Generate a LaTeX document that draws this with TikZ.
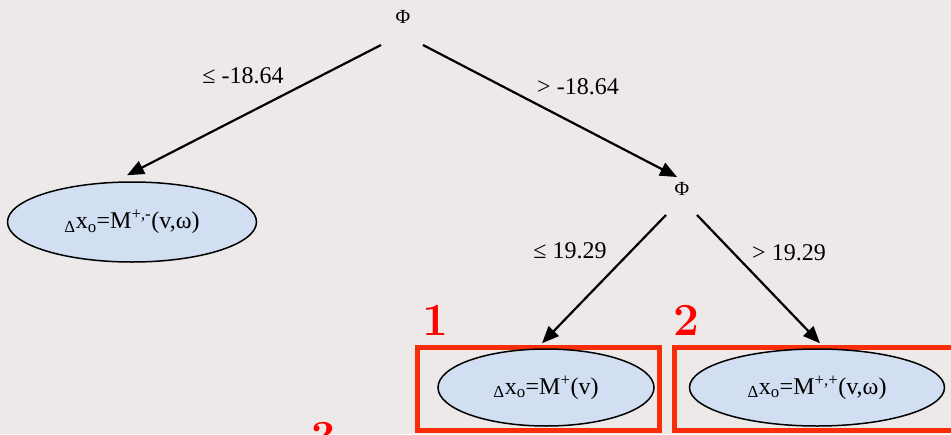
\documentclass[tikz,border=0pt]{standalone}
\usepackage{fontspec}
\newfontfamily\lsfont{Liberation Serif}
\usetikzlibrary{arrows.meta,positioning,calc,shapes.geometric}
\definecolor{bgcol}{RGB}{237,233,233}
\definecolor{leafblue}{RGB}{210,222,242}
\definecolor{markred}{RGB}{250,45,10}

\begin{document}
\begin{tikzpicture}[
  x=1pt, y=-1pt,
  leaf/.style={draw=black, line width=1.5pt, fill=leafblue, ellipse,
               inner sep=0pt, font=\lsfont\fontsize{24}{26}\selectfont},
  split/.style={inner sep=0pt, font=\lsfont\fontsize{20}{22}\selectfont},
  lbl/.style={inner sep=0pt, font=\lsfont\fontsize{24}{26}\selectfont},
  hl/.style={draw=markred, line width=5pt, inner sep=0pt},
  num/.style={text=red, inner sep=0pt, anchor=base,
              font=\fontsize{46}{48}\selectfont\bfseries},
  arr/.style={-{Triangle[length=17pt,width=14pt]}, line width=2.2pt}
]
% background
\fill[bgcol] (0,0) rectangle (951,434);
\useasboundingbox (0,0) rectangle (951,434);

% highlight frames
\node[hl, minimum width=242pt, minimum height=83pt] (box1) at (538,388.5) {};
\node[hl, minimum width=286pt, minimum height=83pt] (box2) at (817,388.5) {};

% splits
\node[split] (root) at (403,17) {Φ};
\node[split] (phi2) at (682,189) {Φ};

% leaves
\node[leaf, minimum width=249pt, minimum height=80pt] (lp) at (132,222)
  {\textsubscript{Δ}x\textsubscript{o}=M\textsuperscript{+,-}(v,ω)};
\node[leaf, minimum width=216pt, minimum height=77pt] (e1) at (546,387.5)
  {\textsubscript{Δ}x\textsubscript{o}=M\textsuperscript{+}(v)};
\node[leaf, minimum width=255pt, minimum height=77pt] (e2) at (817,387.5)
  {\textsubscript{Δ}x\textsubscript{o}=M\textsuperscript{+,+}(v,ω)};

% edge labels
\node[lbl] (lblA) at (243,76) {≤ -18.64};
\node[lbl] (lblB) at (578,87) {> -18.64};
\node[lbl] (lblC) at (570,251) {≤ 19.29};
\node[lbl] (lblD) at (789,253) {> 19.29};

% numbers
\node[num] (n1) at (435,335) {1};
\node[num] (n2) at (686,335) {2};
\node[num] (n3) at (323,452) {3};

\draw[arr] ($(root)+(-22,28)$) -- ($(lp.north)+(-5,-6)$);
\draw[arr] ($(root)+(20,28)$) -- ($(phi2)+(-5,-12)$);
\draw[arr] ($(phi2)+(-16,26)$) -- ($(e1.north)+(-4,-5)$);
\draw[arr] ($(phi2)+(15,26)$) -- ($(e2.north)+(3,-5)$);
\end{tikzpicture}
\end{document}
